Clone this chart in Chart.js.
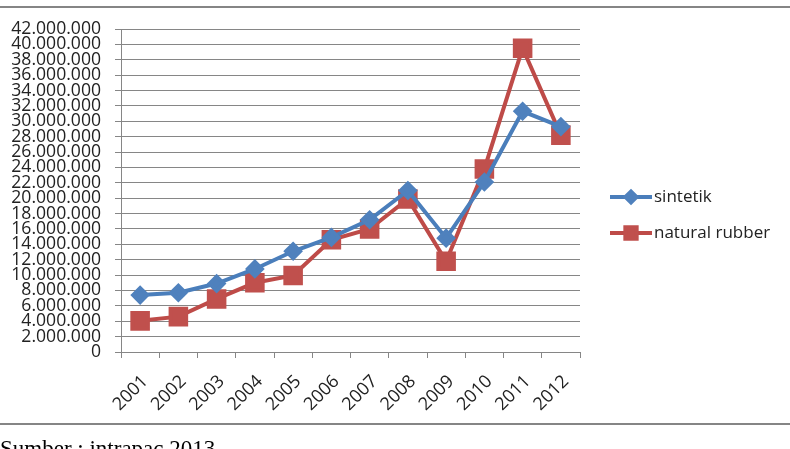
<!DOCTYPE html>
<html>
<head>
<meta charset="utf-8">
<script src="https://cdn.jsdelivr.net/npm/chart.js@4/dist/chart.umd.min.js"></script>
<style>
  html, body { margin: 0; padding: 0; background: #fff; }
  #wrap { position: relative; width: 790px; height: 449px; overflow: hidden; }
  #chart { position: absolute; left: 0; top: 0; }
  .rule { position: absolute; left: 0; width: 790px; height: 2px; background: #858585; }
  #source { position: absolute; left: 0; top: 437px; font-family: "Liberation Serif", serif; font-size: 23px; line-height: 23px; color: #000; white-space: nowrap; }
</style>
</head>
<body>
<div id="wrap">
  <canvas id="chart" width="790" height="449"></canvas>
  <div class="rule" style="top:6px"></div>
  <div class="rule" style="top:423px"></div>
  <div id="source">Sumber : intrapac 2013</div>
</div>
<script>
// data
const years = ["2001", "2002", "2003", "2004", "2005", "2006", "2007", "2008", "2009", "2010", "2011", "2012"]
const sintetik = [7400000, 7700000, 8900000, 10800000, 13100000, 14900000, 17200000, 21000000, 14800000, 22100000, 31300000, 29300000]
const naturalRubber = [4050000, 4600000, 6900000, 9000000, 9950000, 14600000, 16000000, 19900000, 11800000, 23800000, 39500000, 28200000]
const yMax = 42000000
const yStep = 2000000

const blue = "#4A7EBB"
const red = "#BE4B48"
const font = "'Open Sans', sans-serif"

// legend digambar sendiri (garis + marker di tengah, seperti Excel)
const excelLegend = {
  id: "excelLegend",
  afterDraw(chart) {
    const ctx = chart.ctx
    chart.data.datasets.forEach((ds, i) => {
      const y = 197 + i * 36
      ctx.save()
      ctx.strokeStyle = ds.borderColor
      ctx.lineWidth = 4
      ctx.beginPath()
      ctx.moveTo(610, y)
      ctx.lineTo(652, y)
      ctx.stroke()
      ctx.fillStyle = ds.pointBackgroundColor
      ctx.strokeStyle = ds.pointBackgroundColor
      Chart.helpers.drawPoint(ctx, {
        pointStyle: ds.pointStyle,
        radius: ds.pointStyle === "rect" ? 8 : 5.5,
        rotation: 0,
        borderWidth: 1
      }, 631, y)
      ctx.fillStyle = "#222"
      ctx.font = "17px " + font
      ctx.textBaseline = "middle"
      ctx.textAlign = "left"
      ctx.fillText(ds.label, 654, y)
      ctx.restore()
    })
  }
}

const ctx = document.getElementById("chart").getContext("2d")
new Chart(ctx, {
  type: "line",
  data: {
    labels: years,
    datasets: [
      {
        label: "sintetik",
        data: sintetik,
        borderColor: blue,
        backgroundColor: "#4F81BD",
        pointBackgroundColor: "#4F81BD",
        pointBorderColor: "#4F81BD",
        pointStyle: "rectRot",
        pointRadius: 7,
        borderWidth: 4,
        tension: 0
      },
      {
        label: "natural rubber",
        data: naturalRubber,
        borderColor: red,
        backgroundColor: "#C0504D",
        pointBackgroundColor: "#C0504D",
        pointBorderColor: "#C0504D",
        pointStyle: "rect",
        pointRadius: 11,
        borderWidth: 4,
        tension: 0
      }
    ]
  },
  options: {
    responsive: false,
    animation: false,
    layout: { padding: { top: 29, right: 210, left: 0, bottom: 0 } },
    plugins: { legend: { display: false }, tooltip: { enabled: false } },
    scales: {
      x: {
        offset: true,
        grid: { display: true, drawOnChartArea: false, drawTicks: true, tickLength: 6, offset: true, color: "#868686" },
        border: { display: true, color: "#868686", width: 1 },
        ticks: { color: "#222", font: { family: font, size: 18 }, minRotation: 45, maxRotation: 45, padding: 13, labelOffset: 5, autoSkip: false },
        afterFit(scale) { scale.height = 97 }
      },
      y: {
        min: 0,
        max: yMax,
        grid: { color: "#868686", tickLength: 6, drawTicks: true },
        border: { display: true, color: "#868686", width: 1 },
        ticks: {
          stepSize: yStep,
          autoSkip: false,
          color: "#222",
          padding: 14,
          font: { family: font, size: 17.6, lineHeight: 1 },
          callback: (v) => v.toLocaleString("de-DE")
        },
        afterFit(scale) { scale.width = 121 }
      }
    }
  },
  plugins: [excelLegend]
})
</script>
</body>
</html>
